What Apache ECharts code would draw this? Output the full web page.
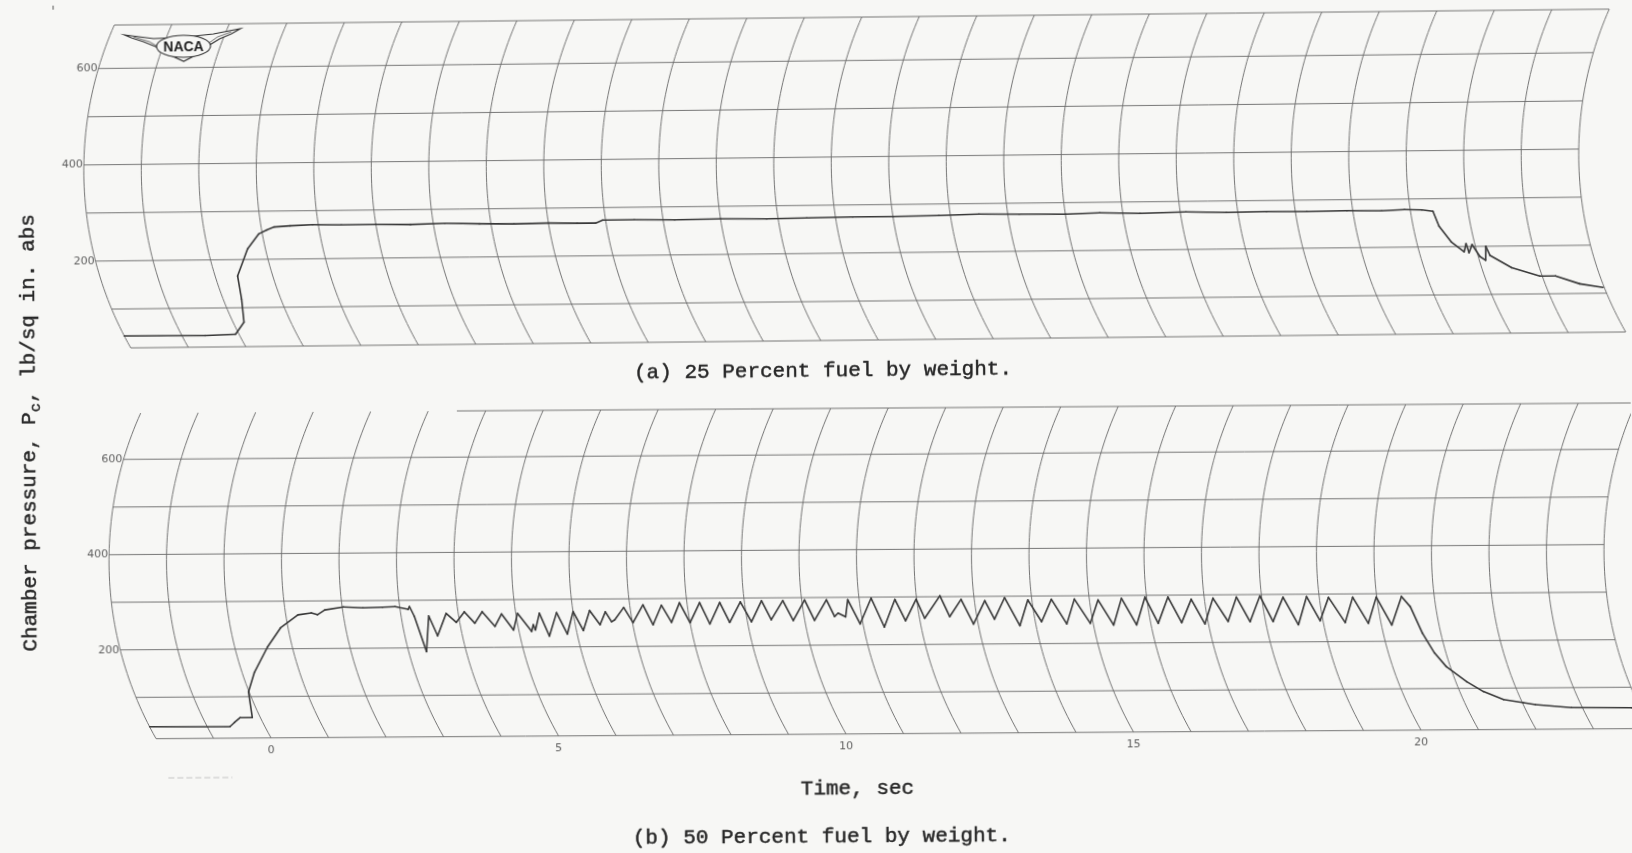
<!DOCTYPE html>
<html>
<head>
<meta charset="utf-8">
<title>Chamber pressure traces</title>
<script src="https://cdn.jsdelivr.net/npm/echarts@6/dist/echarts.min.js"></script>
<style>
  html, body { margin: 0; padding: 0; background: #f7f7f5; overflow: hidden; }
  .chart { position: absolute; left: 0; top: 0; width: 1632px; height: 853px; }
  /* the scanned sheet sits slightly crooked, each panel a bit differently */
  #chartA { transform: rotate(-0.61deg); transform-origin: 870px 180px; }
  #chartB { transform: rotate(-0.39deg); transform-origin: 890px 575px; }
</style>
</head>
<body>
<div id="chartA" class="chart"></div>
<div id="chartB" class="chart"></div>
<script>
// grid of the oscillograph paper
const timeLines = [-2, -1, 0, 1, 2, 3, 4, 5, 6, 7, 8, 9, 10, 11, 12, 13, 14, 15, 16, 17, 18, 19, 20, 21, 22, 23, 24];
const pressureLines = [100, 200, 300, 400, 500, 600];
const pressureTickLabels = [200, 400, 600];
const timeTickLabels = [0, 5, 10, 15, 20];

// (a) 25 percent fuel by weight
const timeA = [-2, -0.6, -0.06, 0.19, 0.32, 0.39, 0.69, 0.94, 1.09, 1.23,
  1.51, 1.9, 2.4, 3.0, 3.6, 4.2, 4.8, 5.4, 6.0, 6.5,
  6.82, 6.95, 7.5, 8.2, 9.0, 9.8, 10.5, 11.3, 12.0, 12.8,
  13.5, 14.2, 15.0, 15.6, 16.3, 17.1, 17.8, 18.5, 19.2, 19.9,
  20.5, 20.9, 21.2, 21.39, 21.45, 21.60, 21.78, 21.85, 21.86, 21.95,
  22.03, 22.11, 22.18, 22.21, 22.52, 22.96, 23.23, 23.60, 23.98];
const pressureA = [44, 43, 45, 70, 118, 166, 222, 253, 261, 267,
  269, 271, 270, 270, 269, 271, 269, 268, 269, 268,
  268, 274, 274, 273, 274, 273, 274, 275, 275, 276,
  278, 277, 276, 278, 276, 278, 276, 277, 276, 277,
  276, 278, 277, 274, 243, 210, 189, 206, 187, 204,
  179, 171, 200, 181, 155, 137, 137, 120, 112];

// (b) 50 percent fuel by weight
const timeB = [-2, -0.61, -0.49, -0.35, -0.14, -0.01, 0.21, 0.57, 0.87, 1.21,
  1.45, 1.55, 1.69, 2.02, 2.36, 2.70, 2.92, 3.14, 3.17, 3.23,
  3.31, 3.48, 3.57, 3.79, 3.94, 4.11, 4.26, 4.42, 4.60, 4.75,
  4.91, 5.03, 5.22, 5.27, 5.29, 5.41, 5.51, 5.71, 5.83, 6.00,
  6.12, 6.29, 6.43, 6.56, 6.64, 6.70, 6.89, 7.01, 7.23, 7.35,
  7.55, 7.68, 7.87, 8.00, 8.22, 8.34, 8.57, 8.69, 8.93, 9.07,
  9.30, 9.42, 9.67, 9.80, 10.05, 10.17, 10.43, 10.53, 10.60, 10.72,
  10.80, 10.95, 11.21, 11.36, 11.62, 11.75, 11.99, 12.09, 12.41, 12.53,
  12.77, 12.92, 13.18, 13.30, 13.53, 13.72, 13.93, 14.11, 14.34, 14.54,
  14.74, 14.95, 15.15, 15.35, 15.56, 15.75, 15.97, 16.13, 16.37, 16.54,
  16.77, 16.94, 17.15, 17.35, 17.56, 17.73, 17.97, 18.13, 18.37, 18.56,
  18.78, 18.95, 19.16, 19.38, 19.58, 19.78, 19.99, 20.18, 20.43, 20.56,
  20.68, 20.80, 20.93, 21.19, 21.41, 21.70, 22.02, 22.21, 22.81, 23.85, 24.0];
const pressureB = [38, 37, 46, 56, 56, 110, 150, 204, 244, 271,
  275, 271, 281, 287, 285, 286, 287, 281, 287, 266,
  192, 267, 225, 272, 253, 275, 251, 275, 244, 270,
  236, 271, 233, 247, 236, 271, 223, 272, 227, 274,
  234, 276, 246, 273, 252, 256, 282, 250, 287, 245,
  286, 250, 291, 249, 291, 246, 291, 249, 292, 250,
  294, 254, 294, 252, 295, 252, 295, 260, 267, 259,
  295, 244, 298, 237, 295, 250, 295, 255, 302, 258,
  294, 242, 291, 252, 297, 238, 292, 246, 293, 241,
  293, 242, 291, 238, 294, 238, 296, 241, 296, 242,
  291, 239, 293, 244, 295, 243, 297, 243, 294, 236,
  295, 244, 293, 240, 293, 238, 293, 234, 294, 272,
  217, 175, 146, 114, 93, 76, 69, 65, 58, 57, 57];

const PAPER = '#f7f7f5';
const RULE = '#686868';
const PEN = '#383838';
const INK = '#262626';
const TYPE = '"Liberation Mono", "DejaVu Sans Mono", monospace';
const R = 360;        // radius of the recorder's time arcs, px
const PX_PER_SEC = 57.5;

// time lines on the recorder paper are circular arcs, so a point (t, p)
// is shifted sideways by how far the arc through it bends at that height
function bend(api, t, v, vMin, vMax) {
  const pt = api.coord([t, v]);
  const top = api.coord([t, vMax])[1];
  const bot = api.coord([t, vMin])[1];
  const cy = top + 0.46 * (bot - top);
  const db = bot - cy, dy = pt[1] - cy;
  const off = Math.sqrt(R * R - db * db) - Math.sqrt(R * R - dy * dy);
  return [pt[0] + off, pt[1]];
}

function panelOption(p) {
  const series = [];

  // curved time lines
  series.push({
    type: 'custom', z: 1, silent: true, clip: false,
    data: timeLines.map(t => [t]),
    renderItem: (params, api) => {
      const t = api.value(0);
      const pts = [];
      for (let k = 0; k <= 60; k++) {
        pts.push(bend(api, t, p.vMin + (p.vMax - p.vMin) * k / 60, p.vMin, p.vMax));
      }
      return { type: 'polyline', shape: { points: pts }, style: { stroke: RULE, lineWidth: 0.9, fill: null } };
    }
  });

  // pressure lines, plus the bottom and top edges
  series.push({
    type: 'custom', z: 1, silent: true, clip: false,
    data: [p.vMin].concat(pressureLines, [p.vMax]).map(v => [v]),
    renderItem: (params, api) => {
      const v = api.value(0);
      const t0 = (v === p.vMax && p.topFrom != null) ? p.topFrom : -2;
      const a = bend(api, t0, v, p.vMin, p.vMax);
      const b = bend(api, 24, v, p.vMin, p.vMax);
      return { type: 'line', shape: { x1: a[0], y1: a[1], x2: b[0], y2: b[1] }, style: { stroke: RULE, lineWidth: 0.9 } };
    }
  });

  // pressure labels at the left edge
  series.push({
    type: 'custom', z: 2, silent: true, clip: false,
    data: pressureTickLabels.map(v => [v]),
    renderItem: (params, api) => {
      const v = api.value(0);
      const a = bend(api, -2, v, p.vMin, p.vMax);
      return {
        type: 'text', x: a[0] - 1, y: a[1],
        style: { text: String(v), fill: '#5e5e5e', font: '11px "DejaVu Sans"', align: 'right', verticalAlign: 'middle' }
      };
    }
  });

  if (p.timeLabels) {
    series.push({
      type: 'custom', z: 2, silent: true, clip: false,
      data: timeTickLabels.map(t => [t]),
      renderItem: (params, api) => {
        const t = api.value(0);
        const a = bend(api, t, p.vMin, p.vMin, p.vMax);
        return {
          type: 'text', x: a[0], y: a[1] + 12,
          style: { text: String(t), fill: '#5e5e5e', font: '11px "DejaVu Sans"', align: 'center', verticalAlign: 'middle' }
        };
      }
    });
  }

  // pressure trace
  series.push({
    type: 'custom', z: 3, silent: true, clip: false,
    data: p.times.map((t, i) => [t, p.pressures[i]]),
    renderItem: (params, api) => {
      const i = params.dataIndex;
      if (i === 0) return { type: 'group', children: [] };
      const a = bend(api, p.times[i - 1], p.pressures[i - 1], p.vMin, p.vMax);
      const b = bend(api, api.value(0), api.value(1), p.vMin, p.vMax);
      return {
        type: 'line', shape: { x1: a[0], y1: a[1], x2: b[0], y2: b[1] },
        style: { stroke: PEN, lineWidth: 1.6, lineCap: 'round' }
      };
    }
  });

  // keep the grid inside the canvas; time lines past the edge are extrapolated
  const width = Math.min(26 * PX_PER_SEC, 1632 - p.left);
  return {
    animation: false,
    backgroundColor: 'transparent',
    grid: { left: p.left, top: p.top, width: width, height: p.height },
    xAxis: { type: 'value', min: -2, max: -2 + width / PX_PER_SEC, show: false },
    yAxis: { type: 'value', min: p.vMin, max: p.vMax, show: false },
    graphic: p.graphic,
    series: series
  };
}

// typewritten captions: regular face, slightly inked up
function caption(text, x, y) {
  return {
    type: 'text', x: x, y: y, z: 10,
    style: {
      text: text, fill: INK, stroke: INK, lineWidth: 0.45, font: '21px ' + TYPE,
      align: 'center', verticalAlign: 'middle', textAlign: 'center', textVerticalAlign: 'middle'
    }
  };
}

const nacaLogo = {
  type: 'group', x: 5, y: -6, z: 20,
  children: [
    {
      type: 'polygon', z: 20,
      shape: { points: [[121, 33], [150, 37], [180, 36], [210, 33], [237, 28], [228, 33], [216, 38], [206, 44],
        [196, 52], [180, 60], [165, 53], [152, 45], [140, 40], [128, 36]] },
      style: { fill: PAPER, stroke: '#333', lineWidth: 1.2 }
    },
    { type: 'polyline', z: 21, shape: { points: [[130, 35], [146, 40], [156, 46]] }, style: { stroke: '#555', lineWidth: 0.8, fill: null } },
    { type: 'polyline', z: 21, shape: { points: [[228, 31], [214, 36], [204, 43]] }, style: { stroke: '#555', lineWidth: 0.8, fill: null } },
    { type: 'ellipse', z: 21, shape: { cx: 180, cy: 45, rx: 27, ry: 11 }, style: { fill: PAPER, stroke: '#333', lineWidth: 1.1 } },
    {
      type: 'text', z: 22, x: 180, y: 46,
      style: { text: 'NACA', fill: '#1e1e1e', font: 'bold 14px "Liberation Sans"', align: 'center', verticalAlign: 'middle', textAlign: 'center', textVerticalAlign: 'middle' }
    }
  ]
};

const chartA = echarts.init(document.getElementById('chartA'), null, { renderer: 'canvas' });
chartA.setOption(panelOption({
  left: 129, top: 17, height: 323,
  vMin: 19, vMax: 690,
  times: timeA, pressures: pressureA,
  timeLabels: false, topFrom: null,
  graphic: [
    nacaLogo,
    caption('(a) 25 Percent fuel by weight.', 821, 370)
  ]
}));

const chartB = echarts.init(document.getElementById('chartB'), null, { renderer: 'canvas' });
chartB.setOption(panelOption({
  left: 155, top: 408, height: 325.7,
  vMin: 13, vMax: 697,
  times: timeB, pressures: pressureB,
  timeLabels: true, topFrom: 3.5,
  graphic: [
    {
      type: 'text', x: 30, y: 427, rotation: Math.PI / 2, z: 10,
      style: {
        text: '{m|Chamber pressure, P}{s|c}{m|, lb/sq in. abs}',
        rich: {
          m: { fontFamily: TYPE, fontSize: 21, fill: INK, stroke: INK, lineWidth: 0.45, lineHeight: 30, verticalAlign: 'middle' },
          s: { fontFamily: TYPE, fontSize: 15, fill: INK, stroke: INK, lineWidth: 0.45, lineHeight: 30, verticalAlign: 'bottom' }
        },
        align: 'center', verticalAlign: 'middle', textAlign: 'center', textVerticalAlign: 'middle'
      }
    },
    caption('Time, sec', 856, 788),
    caption('(b) 50 Percent fuel by weight.', 820, 836),
    { type: 'line', z: 5, shape: { x1: 57, y1: 0, x2: 57, y2: 4 }, style: { stroke: '#555', lineWidth: 1 } },
    { type: 'line', z: 5, shape: { x1: 167, y1: 773, x2: 231, y2: 773 }, style: { stroke: '#c4c4c4', lineWidth: 1, lineDash: [6, 3] } }
  ]
}));
</script>
</body>
</html>
